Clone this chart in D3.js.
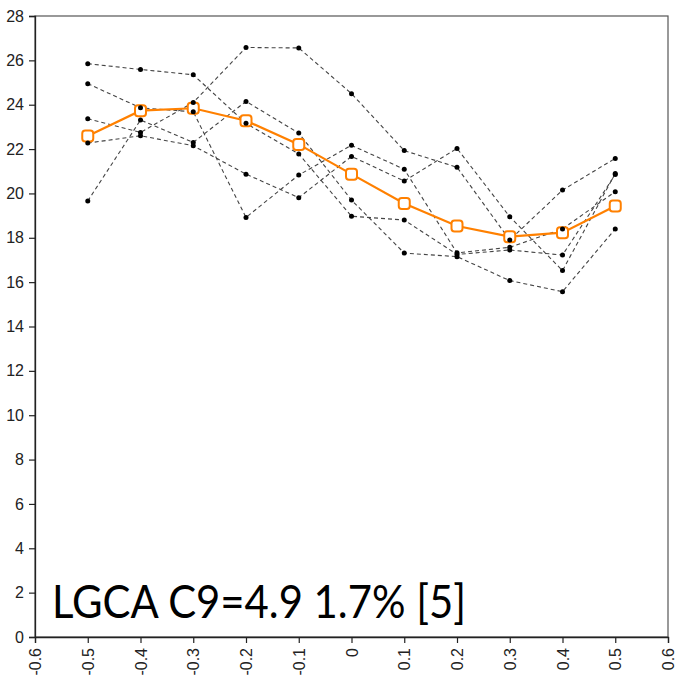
<!DOCTYPE html>
<html>
<head>
<meta charset="utf-8">
<script src="https://cdn.jsdelivr.net/npm/d3@7"></script>
<style>
  html, body { margin: 0; padding: 0; background: #fff; }
  svg { display: block; }
</style>
</head>
<body>
<svg id="chart" width="679" height="686"></svg>
<script>
// ---- data ----
const xValues = [-0.5, -0.4, -0.3, -0.2, -0.1, 0, 0.1, 0.2, 0.3, 0.4, 0.5];
const series1 = [25.85, 25.59, 25.35, 23.16, 21.78, 18.97, 18.8, 17.25, 17.45, 17.22, 20.85];
const series2 = [24.95, 23.86, 23.68, 18.92, 20.83, 22.17, 21.09, 17.32, 17.57, 18.4, 20.08];
const series3 = [19.66, 23.31, 22.3, 24.15, 22.72, 19.7, 17.31, 17.15, 16.07, 15.57, 18.4];
const series4 = [23.37, 22.75, 24.1, 26.58, 26.56, 24.5, 21.93, 21.18, 17.9, 20.15, 21.58];
const series5 = [22.27, 22.6, 22.15, 20.87, 19.81, 21.67, 20.56, 22.03, 18.95, 16.52, 20.9];
const summary = [22.59, 23.73, 23.84, 23.28, 22.21, 20.87, 19.55, 18.53, 18.05, 18.23, 19.43];
const xTicks = [-0.6, -0.5, -0.4, -0.3, -0.2, -0.1, 0, 0.1, 0.2, 0.3, 0.4, 0.5, 0.6];
const yTicks = [0, 2, 4, 6, 8, 10, 12, 14, 16, 18, 20, 22, 24, 26, 28];
const annotation = "LGCA C9=4.9 1.7% [5]";

(function () {
const svg = d3.select("#chart");
const pLeft = 35, pRight = 668, pTop = 16, pBottom = 637;

const x = d3.scaleLinear().domain([-0.6, 0.6]).range([pLeft, pRight]);
const y = d3.scaleLinear().domain([0, 28]).range([pBottom, pTop]);

// frame (top & right)
svg.append("rect")
  .attr("x", pLeft).attr("y", pTop)
  .attr("width", pRight - pLeft).attr("height", pBottom - pTop)
  .attr("fill", "none").attr("stroke", "#555").attr("stroke-width", 1.2);

// y axis
const yAxis = svg.append("g")
  .attr("transform", `translate(${pLeft},0)`)
  .call(d3.axisLeft(y).tickValues(yTicks).tickSize(6).tickPadding(5).tickFormat(d => String(d)));
yAxis.selectAll("text")
  .attr("font-family", "'Liberation Sans', Arial, sans-serif")
  .attr("font-size", 16).attr("fill", "#222");

// x axis
const xAxis = svg.append("g")
  .attr("transform", `translate(0,${pBottom})`)
  .call(d3.axisBottom(x).tickValues(xTicks).tickSize(6).tickFormat(d => d === 0 ? "0" : d.toFixed(1)));
xAxis.selectAll("text")
  .attr("font-family", "'Liberation Sans', Arial, sans-serif")
  .attr("font-size", 16).attr("fill", "#222")
  .attr("text-anchor", "end")
  .attr("transform", "rotate(-90)")
  .attr("x", -11).attr("y", 0).attr("dy", "0.35em");
[yAxis, xAxis].forEach(a => {
  a.select(".domain").attr("stroke", "#222").attr("stroke-width", 1.3);
  a.selectAll(".tick line").attr("stroke", "#222").attr("stroke-width", 1.2);
});

// dashed series
const allSeries = [series1, series2, series3, series4, series5];
const line = d3.line().x((d, i) => x(xValues[i])).y(d => y(d));
allSeries.forEach(s => {
  svg.append("path")
    .datum(s)
    .attr("d", line)
    .attr("fill", "none")
    .attr("stroke", "#444")
    .attr("stroke-width", 1.1)
    .attr("stroke-dasharray", "4,3");
});

// orange summary line
svg.append("path")
  .datum(summary)
  .attr("d", line)
  .attr("fill", "none")
  .attr("stroke", "#ff8000")
  .attr("stroke-width", 2.2);
const sq = 11;
svg.selectAll("rect.marker")
  .data(summary)
  .enter().append("rect")
  .attr("class", "marker")
  .attr("x", (d, i) => x(xValues[i]) - sq / 2)
  .attr("y", d => y(d) - sq / 2)
  .attr("width", sq).attr("height", sq)
  .attr("rx", 3).attr("ry", 3)
  .attr("fill", "#fff")
  .attr("stroke", "#ff8000")
  .attr("stroke-width", 2);

// black dots
allSeries.forEach(s => {
  svg.append("g").selectAll("circle")
    .data(s)
    .enter().append("circle")
    .attr("cx", (d, i) => x(xValues[i]))
    .attr("cy", d => y(d))
    .attr("r", 2.5)
    .attr("fill", "#000");
});

// annotation
svg.append("text")
  .attr("x", 52).attr("y", 618)
  .attr("font-family", "Lato, 'Open Sans', sans-serif")
  .attr("font-size", 47)
  .attr("textLength", 414)
  .attr("lengthAdjust", "spacingAndGlyphs")
  .attr("fill", "#000")
  .text(annotation);
})();
</script>
</body>
</html>
